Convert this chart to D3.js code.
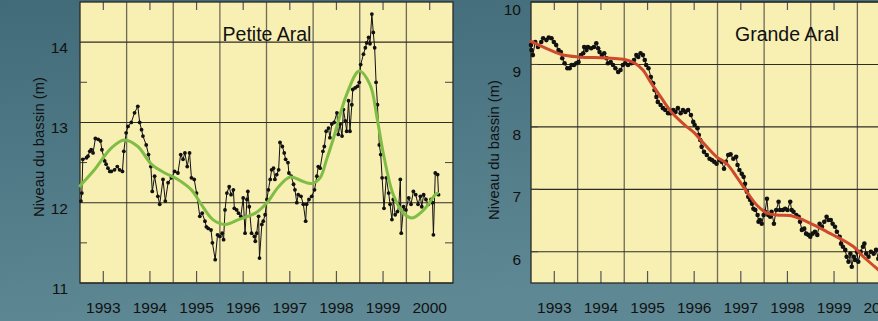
<!DOCTYPE html>
<html>
<head>
<meta charset="utf-8">
<script src="https://cdn.jsdelivr.net/npm/d3@7"></script>
<style>
  html, body { margin: 0; padding: 0; }
  body { width: 878px; height: 321px; overflow: hidden; }
  text { font-family: "Liberation Sans", Arial, Helvetica, sans-serif; fill: #111; }
</style>
</head>
<body>
<div id="chart"></div>
<script>
// years shown under each panel
const years = [1993, 1994, 1995, 1996, 1997, 1998, 1999, 2000];
const petiteTicks = [11, 12, 13, 14];
const grandeTicks = [6, 7, 8, 9, 10];

// Petite Aral : niveau mesuré [année, m]
const petiteLevels = [
  [1993.02, 12.02], [1993.04, 12.12], [1993.06, 12.54], [1993.14, 12.56], [1993.17, 12.58],
  [1993.21, 12.64], [1993.24, 12.66], [1993.28, 12.62], [1993.33, 12.80], [1993.39, 12.79],
  [1993.44, 12.77], [1993.47, 12.66], [1993.53, 12.52], [1993.56, 12.48], [1993.60, 12.43],
  [1993.64, 12.39], [1993.67, 12.39], [1993.74, 12.41], [1993.80, 12.45], [1993.85, 12.41],
  [1993.91, 12.39], [1993.94, 12.64], [1993.99, 12.87], [1994.03, 12.95], [1994.10, 13.00],
  [1994.17, 13.12], [1994.24, 13.20], [1994.28, 13.00], [1994.32, 12.91], [1994.35, 12.83],
  [1994.42, 12.72], [1994.47, 12.60], [1994.52, 12.45], [1994.55, 12.14], [1994.60, 12.33],
  [1994.67, 12.08], [1994.71, 11.98], [1994.78, 12.29], [1994.83, 12.02], [1994.89, 12.25],
  [1994.96, 12.31], [1995.03, 12.39], [1995.10, 12.37], [1995.16, 12.60], [1995.21, 12.54],
  [1995.25, 12.62], [1995.30, 12.45], [1995.35, 12.62], [1995.39, 12.31], [1995.45, 12.29],
  [1995.50, 12.12], [1995.57, 11.83], [1995.62, 11.87], [1995.68, 11.77], [1995.71, 11.70],
  [1995.75, 11.68], [1995.81, 11.66], [1995.84, 11.50], [1995.90, 11.29], [1995.95, 11.60],
  [1996.00, 11.58], [1996.05, 11.62], [1996.08, 11.54], [1996.11, 11.91], [1996.15, 12.12],
  [1996.20, 12.20], [1996.24, 12.10], [1996.29, 12.16], [1996.31, 11.93], [1996.36, 11.91],
  [1996.40, 11.87], [1996.45, 11.83], [1996.50, 12.06], [1996.54, 11.62], [1996.58, 12.04],
  [1996.60, 12.14], [1996.63, 11.95], [1996.68, 11.62], [1996.74, 11.58], [1996.76, 11.52],
  [1996.79, 11.62], [1996.83, 11.83], [1996.85, 11.31], [1996.90, 11.73], [1996.93, 11.77],
  [1996.97, 11.85], [1997.01, 12.04], [1997.04, 12.16], [1997.08, 12.29], [1997.11, 12.41],
  [1997.15, 12.43], [1997.18, 12.29], [1997.22, 12.35], [1997.26, 12.41], [1997.29, 12.75],
  [1997.34, 12.70], [1997.38, 12.62], [1997.41, 12.54], [1997.46, 12.50], [1997.48, 12.37],
  [1997.53, 12.33], [1997.58, 12.23], [1997.61, 12.16], [1997.65, 12.00], [1997.68, 12.10],
  [1997.74, 12.08], [1997.79, 11.98], [1997.84, 11.77], [1997.86, 11.98], [1997.91, 12.04],
  [1997.97, 12.08], [1998.03, 12.16], [1998.08, 12.33], [1998.11, 12.45], [1998.15, 12.43],
  [1998.21, 12.64], [1998.24, 12.70], [1998.28, 12.89], [1998.33, 12.93], [1998.36, 12.81],
  [1998.40, 12.98], [1998.45, 13.00], [1998.51, 13.12], [1998.54, 12.85], [1998.58, 12.98],
  [1998.62, 12.83], [1998.65, 13.16], [1998.69, 13.02], [1998.72, 12.89], [1998.76, 13.27],
  [1998.79, 12.89], [1998.83, 13.22], [1998.85, 13.41], [1998.90, 13.43], [1998.95, 13.45],
  [1998.99, 13.50], [1999.02, 13.72], [1999.08, 13.85], [1999.12, 13.93], [1999.15, 13.99],
  [1999.19, 14.06], [1999.22, 13.98], [1999.26, 14.35], [1999.29, 14.12], [1999.32, 13.93],
  [1999.35, 13.50], [1999.38, 13.22], [1999.42, 12.72], [1999.45, 12.60], [1999.48, 12.31],
  [1999.52, 11.93], [1999.57, 12.31], [1999.62, 12.12], [1999.65, 11.98], [1999.69, 11.79],
  [1999.72, 12.04], [1999.76, 11.85], [1999.81, 11.89], [1999.84, 11.98], [1999.87, 12.29],
  [1999.89, 11.62], [1999.94, 11.95], [1999.99, 11.91], [2000.05, 12.06], [2000.10, 11.98],
  [2000.15, 12.14], [2000.20, 12.10], [2000.25, 11.98], [2000.30, 12.08], [2000.33, 11.95],
  [2000.37, 12.10], [2000.42, 12.04], [2000.47, 11.98], [2000.53, 12.04], [2000.56, 12.00],
  [2000.58, 11.60], [2000.62, 12.37], [2000.67, 12.35], [2000.69, 12.10]
];

// Petite Aral : courbe lissée
const petiteTrend = [
  [1993.00, 12.21], [1993.31, 12.41], [1993.67, 12.68], [1993.95, 12.78], [1994.24, 12.70],
  [1994.53, 12.48], [1994.82, 12.37], [1995.10, 12.29], [1995.39, 12.16], [1995.60, 11.98],
  [1995.85, 11.79], [1996.11, 11.73], [1996.40, 11.79], [1996.76, 11.87], [1997.01, 12.00],
  [1997.26, 12.20], [1997.51, 12.32], [1997.76, 12.27], [1997.97, 12.24], [1998.15, 12.31],
  [1998.29, 12.54], [1998.44, 12.81], [1998.72, 13.35], [1998.99, 13.64], [1999.22, 13.47],
  [1999.37, 13.06], [1999.51, 12.60], [1999.72, 12.10], [1999.94, 11.87], [2000.12, 11.81],
  [2000.37, 11.91], [2000.62, 12.10], [2000.67, 12.12]
];

// Grande Aral : niveau mesuré [année, m]
const grandeLevels = [
  [1993.00, 9.31], [1993.01, 9.23], [1993.04, 9.15], [1993.09, 9.36], [1993.15, 9.28],
  [1993.22, 9.36], [1993.26, 9.42], [1993.33, 9.39], [1993.38, 9.43], [1993.44, 9.42],
  [1993.49, 9.36], [1993.54, 9.31], [1993.59, 9.23], [1993.64, 9.20], [1993.67, 9.10],
  [1993.72, 9.02], [1993.78, 8.94], [1993.83, 8.94], [1993.87, 8.99], [1993.92, 8.99],
  [1993.97, 9.02], [1994.02, 9.04], [1994.07, 9.15], [1994.12, 9.18], [1994.14, 9.28],
  [1994.19, 9.23], [1994.22, 9.28], [1994.29, 9.26], [1994.35, 9.28], [1994.40, 9.34],
  [1994.44, 9.26], [1994.47, 9.20], [1994.52, 9.15], [1994.57, 9.18], [1994.62, 9.10],
  [1994.65, 9.02], [1994.71, 9.04], [1994.76, 8.99], [1994.81, 8.94], [1994.87, 8.88],
  [1994.92, 8.91], [1994.97, 8.99], [1995.02, 9.02], [1995.08, 8.99], [1995.15, 9.02],
  [1995.21, 9.07], [1995.26, 9.15], [1995.30, 9.12], [1995.35, 9.18], [1995.40, 9.15],
  [1995.44, 9.07], [1995.47, 8.99], [1995.52, 8.94], [1995.57, 8.80], [1995.62, 8.70],
  [1995.65, 8.59], [1995.69, 8.48], [1995.72, 8.40], [1995.78, 8.35], [1995.83, 8.30],
  [1995.88, 8.27], [1995.94, 8.22], [1995.99, 8.22], [1996.05, 8.27], [1996.10, 8.24],
  [1996.15, 8.30], [1996.21, 8.22], [1996.26, 8.27], [1996.31, 8.24], [1996.37, 8.27],
  [1996.43, 8.19], [1996.48, 8.08], [1996.51, 8.03], [1996.57, 7.98], [1996.60, 7.87],
  [1996.63, 7.79], [1996.66, 7.68], [1996.71, 7.60], [1996.77, 7.55], [1996.83, 7.49],
  [1996.88, 7.47], [1996.93, 7.44], [1996.98, 7.41], [1997.04, 7.47], [1997.09, 7.44],
  [1997.14, 7.33], [1997.18, 7.44], [1997.23, 7.55], [1997.28, 7.56], [1997.34, 7.49],
  [1997.40, 7.52], [1997.43, 7.39], [1997.47, 7.31], [1997.52, 7.25], [1997.56, 7.20],
  [1997.59, 7.09], [1997.63, 6.96], [1997.66, 6.88], [1997.70, 6.83], [1997.74, 6.77],
  [1997.77, 6.69], [1997.81, 6.67], [1997.86, 6.59], [1997.88, 6.48], [1997.91, 6.51],
  [1997.95, 6.45], [1997.99, 6.59], [1998.02, 6.64], [1998.06, 6.85], [1998.09, 6.59],
  [1998.13, 6.56], [1998.16, 6.64], [1998.21, 6.45], [1998.26, 6.67], [1998.31, 6.80],
  [1998.34, 6.67], [1998.40, 6.67], [1998.45, 6.69], [1998.50, 6.67], [1998.56, 6.80],
  [1998.59, 6.67], [1998.63, 6.64], [1998.69, 6.59], [1998.74, 6.56], [1998.77, 6.48],
  [1998.81, 6.35], [1998.86, 6.37], [1998.90, 6.29], [1998.95, 6.27], [1998.99, 6.24],
  [1999.04, 6.29], [1999.09, 6.32], [1999.14, 6.27], [1999.19, 6.45], [1999.24, 6.40],
  [1999.29, 6.48], [1999.34, 6.56], [1999.38, 6.51], [1999.43, 6.51], [1999.47, 6.45],
  [1999.52, 6.40], [1999.56, 6.32], [1999.62, 6.24], [1999.65, 6.13], [1999.69, 6.08],
  [1999.74, 6.03], [1999.77, 5.92], [1999.81, 5.84], [1999.85, 5.97], [1999.88, 5.76],
  [1999.92, 5.92], [1999.95, 5.87], [1999.99, 6.00], [2000.02, 5.84], [2000.07, 6.00],
  [2000.12, 6.08], [2000.15, 6.13], [2000.19, 5.97], [2000.24, 5.92], [2000.29, 6.00],
  [2000.35, 5.97], [2000.40, 6.03], [2000.45, 5.89]
];

// Grande Aral : courbe lissée
const grandeTrend = [
  [1993.00, 9.37], [1993.29, 9.27], [1993.65, 9.16], [1994.01, 9.12], [1994.37, 9.11],
  [1994.72, 9.10], [1995.01, 9.08], [1995.23, 9.02], [1995.40, 8.91], [1995.58, 8.70],
  [1995.80, 8.46], [1996.01, 8.24], [1996.30, 8.03], [1996.51, 7.90], [1996.65, 7.78],
  [1996.98, 7.52], [1997.20, 7.41], [1997.41, 7.20], [1997.63, 6.96], [1997.84, 6.75],
  [1998.06, 6.62], [1998.27, 6.59], [1998.56, 6.58], [1998.77, 6.53], [1999.06, 6.43],
  [1999.35, 6.32], [1999.63, 6.21], [1999.92, 6.08], [2000.13, 5.92], [2000.47, 5.70]
];

const width = 878;
const height = 321;

const svg = d3.select('#chart')
  .append('svg')
  .attr('width', width)
  .attr('height', height);

// fond dégradé bleu-gris
const grad = svg.append('defs').append('linearGradient')
  .attr('id', 'bg')
  .attr('x1', 0).attr('y1', 0).attr('x2', 0.25).attr('y2', 1);
grad.append('stop').attr('offset', '0%').attr('stop-color', '#416b78');
grad.append('stop').attr('offset', '100%').attr('stop-color', '#5e8894');

svg.append('rect')
  .attr('width', width)
  .attr('height', height)
  .attr('fill', 'url(#bg)');

function drawPanel(opts) {
  const top = 2;
  const bottom = 283;
  const panelWidth = 373;

  const x = d3.scaleLinear().domain([1993, 2001]).range([opts.left, opts.left + panelWidth]);
  const y = d3.scaleLinear().domain(opts.yDomain).range([bottom, top]);

  const g = svg.append('g');

  g.append('rect')
    .attr('x', opts.left)
    .attr('y', top)
    .attr('width', panelWidth)
    .attr('height', bottom - top)
    .attr('fill', '#f8efb3');

  // lignes verticales aux changements d'année
  g.selectAll('.vgrid')
    .data(d3.range(1994, 2001))
    .enter()
    .append('line')
    .attr('x1', d => x(d)).attr('x2', d => x(d))
    .attr('y1', top).attr('y2', bottom)
    .attr('stroke', '#6f6a58')
    .attr('stroke-width', 1.3);

  // lignes horizontales aux mètres entiers
  g.selectAll('.hgrid')
    .data(opts.yTicks)
    .enter()
    .append('line')
    .attr('x1', opts.left).attr('x2', opts.left + panelWidth)
    .attr('y1', d => y(d)).attr('y2', d => y(d))
    .attr('stroke', '#2e2c26')
    .attr('stroke-width', 1.1);

  // petites graduations des demi-mètres
  const halves = d3.range(opts.yDomain[0] + 0.5, opts.yDomain[1], 1);
  g.selectAll('.ltick')
    .data(halves)
    .enter()
    .append('line')
    .attr('x1', opts.left).attr('x2', opts.left + 7)
    .attr('y1', d => y(d)).attr('y2', d => y(d))
    .attr('stroke', '#444').attr('stroke-width', 1);
  g.selectAll('.rtick')
    .data(halves)
    .enter()
    .append('line')
    .attr('x1', opts.left + panelWidth - 8).attr('x2', opts.left + panelWidth)
    .attr('y1', d => y(d)).attr('y2', d => y(d))
    .attr('stroke', '#444').attr('stroke-width', 1);

  // graduations au milieu de chaque année
  const mids = years.map(d => d + 0.5);
  g.selectAll('.btick')
    .data(mids)
    .enter()
    .append('line')
    .attr('x1', d => x(d)).attr('x2', d => x(d))
    .attr('y1', bottom - 12).attr('y2', bottom)
    .attr('stroke', '#555').attr('stroke-width', 1.2);
  g.selectAll('.ttick')
    .data(mids)
    .enter()
    .append('line')
    .attr('x1', d => x(d)).attr('x2', d => x(d))
    .attr('y1', top).attr('y2', top + 8)
    .attr('stroke', '#555').attr('stroke-width', 1.2);

  // cadre
  g.append('rect')
    .attr('x', opts.left)
    .attr('y', top)
    .attr('width', panelWidth)
    .attr('height', bottom - top)
    .attr('fill', 'none')
    .attr('stroke', '#2b2a26')
    .attr('stroke-width', 1.3);

  // série mesurée
  const line = d3.line()
    .x(d => x(d[0]))
    .y(d => y(d[1]));

  g.append('path')
    .attr('d', line(opts.data))
    .attr('fill', 'none')
    .attr('stroke', '#111')
    .attr('stroke-width', 1);

  g.selectAll('.pt')
    .data(opts.data)
    .enter()
    .append('circle')
    .attr('cx', d => x(d[0]))
    .attr('cy', d => y(d[1]))
    .attr('r', opts.dot)
    .attr('fill', '#111');

  // courbe lissée
  const smooth = d3.line()
    .curve(d3.curveCatmullRom.alpha(0.5))
    .x(d => x(d[0]))
    .y(d => y(d[1]));

  g.append('path')
    .attr('d', smooth(opts.trend))
    .attr('fill', 'none')
    .attr('stroke', opts.trendColor)
    .attr('stroke-width', 3)
    .attr('stroke-linecap', 'round');

  // étiquettes de l'axe y
  g.selectAll('.ylab')
    .data(opts.yTicks)
    .enter()
    .append('text')
    .attr('x', opts.left - opts.labelGap)
    .attr('y', d => y(d) + opts.labelDrop)
    .attr('text-anchor', 'end')
    .attr('font-size', '15.5px')
    .text(d => d);

  // années
  g.selectAll('.xlab')
    .data(years)
    .enter()
    .append('text')
    .attr('x', d => x(d + 0.5))
    .attr('y', 313)
    .attr('text-anchor', 'middle')
    .attr('font-size', '15.5px')
    .text(d => d);

  g.append('text')
    .attr('transform', `translate(${opts.left - opts.titleGap},${opts.titleY}) rotate(-90)`)
    .attr('text-anchor', 'middle')
    .attr('font-size', '14.8px')
    .text('Niveau du bassin (m)');

  g.append('text')
    .attr('x', opts.nameX)
    .attr('y', 41)
    .attr('text-anchor', 'middle')
    .attr('font-size', '19.5px')
    .text(opts.name);
}

drawPanel({
  left: 80,
  yDomain: [11, 14.5],
  yTicks: petiteTicks,
  data: petiteLevels,
  trend: petiteTrend,
  trendColor: '#7fbd45',
  dot: 1.9,
  labelGap: 12,
  labelDrop: 11,
  titleGap: 36,
  titleY: 147,
  name: 'Petite Aral',
  nameX: 267
});

drawPanel({
  left: 531,
  yDomain: [5.5, 10],
  yTicks: grandeTicks,
  data: grandeLevels,
  trend: grandeTrend,
  trendColor: '#cf4a2c',
  dot: 2.3,
  labelGap: 10,
  labelDrop: 13,
  titleGap: 32,
  titleY: 150,
  name: 'Grande Aral',
  nameX: 787
});
</script>
</body>
</html>
